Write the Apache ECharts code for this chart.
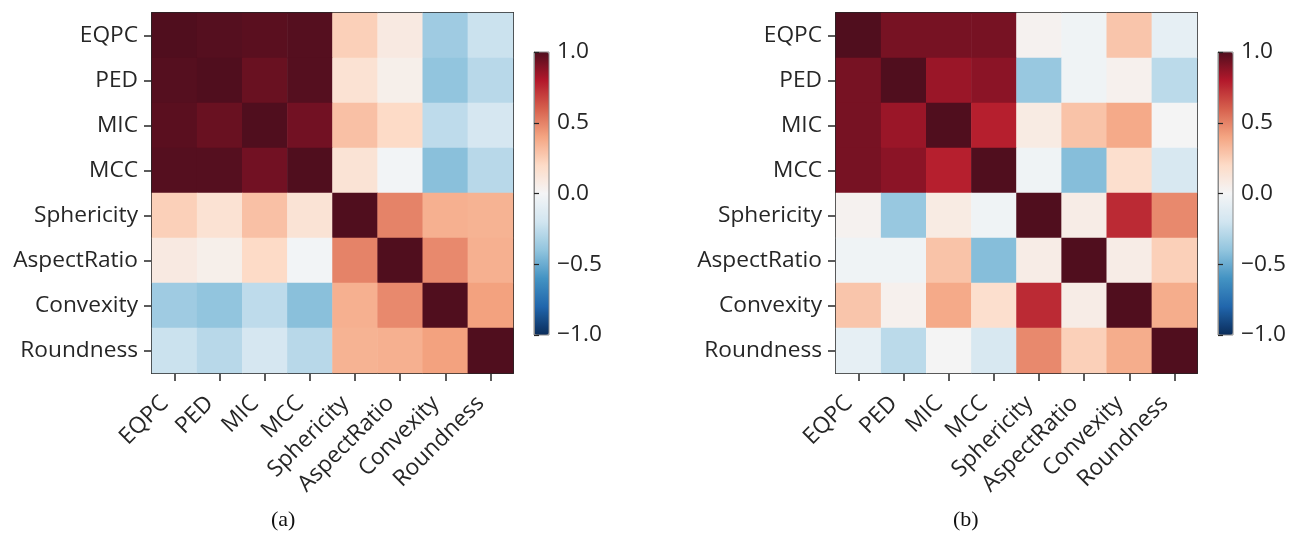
<!DOCTYPE html>
<html>
<head>
<meta charset="utf-8">
<script src="https://cdn.jsdelivr.net/npm/echarts@6/dist/echarts.min.js"></script>
<style>
html,body{margin:0;padding:0;background:#fff;}
#chart{width:1309px;height:547px;}
</style>
</head>
<body>
<div id="chart"></div>
<script>
// ---- data ----
const features = ['EQPC','PED','MIC','MCC','Sphericity','AspectRatio','Convexity','Roundness'];

const corrA = [
  [1.00, 0.99, 0.98, 0.99, 0.24, 0.09, -0.36, -0.22],
  [0.99, 1.00, 0.95, 0.99, 0.15, 0.05, -0.40, -0.28],
  [0.98, 0.95, 1.00, 0.93, 0.30, 0.20, -0.26, -0.17],
  [0.99, 0.99, 0.93, 1.00, 0.14, -0.01, -0.42, -0.28],
  [0.24, 0.15, 0.30, 0.14, 1.00, 0.50, 0.36, 0.35],
  [0.09, 0.05, 0.20, -0.01, 0.50, 1.00, 0.48, 0.36],
  [-0.36, -0.40, -0.26, -0.42, 0.36, 0.48, 1.00, 0.41],
  [-0.22, -0.28, -0.17, -0.28, 0.35, 0.36, 0.41, 1.00]
];

const corrB = [
  [1.00, 0.92, 0.92, 0.92, 0.03, -0.03, 0.28, -0.08],
  [0.92, 1.00, 0.85, 0.88, -0.38, -0.03, 0.04, -0.27],
  [0.92, 0.85, 1.00, 0.78, 0.08, 0.29, 0.38, 0.01],
  [0.92, 0.88, 0.78, 1.00, -0.03, -0.43, 0.17, -0.16],
  [0.03, -0.38, 0.08, -0.03, 1.00, 0.07, 0.75, 0.48],
  [-0.03, -0.03, 0.29, -0.43, 0.07, 1.00, 0.07, 0.24],
  [0.28, 0.04, 0.38, 0.17, 0.75, 0.07, 1.00, 0.37],
  [-0.08, -0.27, 0.01, -0.16, 0.48, 0.24, 0.37, 1.00]
];

const colorbarTicks = [-1.0, -0.5, 0.0, 0.5, 1.0];
const captions = ['(a)', '(b)'];

// RdBu_r colormap (low -> high)
const rdbu_r = ['#0a2c5a','#2166ac','#4393c3','#92c5de','#d1e5f0','#f4f5f6',
                '#fddbc7','#f4a582','#d6604d','#b2182b','#500e1e'];

function toCells(m){
  const out = [];
  for (let r = 0; r < m.length; r++)
    for (let c = 0; c < m[r].length; c++)
      out.push([c, r, m[r][c]]);
  return out;
}

const FONT = 'Open Sans';
const TXT = '#262626';
const labelStyle = {color: TXT, fontFamily: FONT, fontSize: 22.7};

const panels = [
  {left: 152, top: 13, cbLeft: 534, capLeft: 271, data: corrA},
  {left: 836, top: 13, cbLeft: 1218, capLeft: 953, data: corrB}
];
const W = 361, H = 360, cbTop = 52, cbW = 15, cbH = 283;

const grid = [], xAxis = [], yAxis = [], series = [], visualMap = [], graphic = [];

panels.forEach((p, i) => {
  grid.push({left: p.left, top: p.top, width: W, height: H, containLabel: false});
  const g = grid.length - 1;
  xAxis.push({
    type: 'category', gridIndex: g, data: features, position: 'bottom',
    axisLine: {show: true, onZero: false, lineStyle: {color: TXT, width: 2}},
    axisTick: {show: true, alignWithLabel: true, length: 8, lineStyle: {color: TXT, width: 1.5}},
    axisLabel: Object.assign({rotate: 45, margin: 17, interval: 0, padding: [0, 14, 0, 0]}, labelStyle),
    splitLine: {show: false}
  });
  xAxis.push({
    type: 'category', gridIndex: g, data: features, position: 'top',
    axisLine: {show: true, onZero: false, lineStyle: {color: TXT, width: 2}},
    axisTick: {show: false}, axisLabel: {show: false}, splitLine: {show: false}
  });
  yAxis.push({
    type: 'category', gridIndex: g, data: features, inverse: true, position: 'left',
    axisLine: {show: true, onZero: false, lineStyle: {color: TXT, width: 2}},
    axisTick: {show: true, alignWithLabel: true, length: 8, lineStyle: {color: TXT, width: 1.5}},
    axisLabel: Object.assign({margin: 14, interval: 0, padding: [3, 0, 0, 0]}, labelStyle),
    splitLine: {show: false}
  });
  yAxis.push({
    type: 'category', gridIndex: g, data: features, inverse: true, position: 'right',
    axisLine: {show: true, onZero: false, lineStyle: {color: TXT, width: 2}},
    axisTick: {show: false}, axisLabel: {show: false}, splitLine: {show: false}
  });
  series.push({
    type: 'heatmap', name: 'panel' + i,
    xAxisIndex: xAxis.length - 2, yAxisIndex: yAxis.length - 2,
    data: toCells(p.data),
    itemStyle: {borderWidth: 0},
    emphasis: {disabled: true},
    progressive: 0
  });
  visualMap.push({
    type: 'continuous', seriesIndex: series.length - 1,
    min: -1, max: 1, calculable: false, realtime: false, hoverLink: false,
    orient: 'vertical', left: p.cbLeft, top: cbTop,
    itemWidth: cbW, itemHeight: cbH, padding: 0, text: null, showLabel: false,
    inRange: {color: rdbu_r}
  });
});

// colorbar axes
panels.forEach((p, i) => {
  grid.push({left: p.cbLeft, top: cbTop, width: cbW, height: cbH, show: true,
             borderColor: '#8a8a8a', borderWidth: 1, backgroundColor: 'transparent', z: 10});
  const g = grid.length - 1;
  xAxis.push({type: 'value', gridIndex: g, show: false, min: 0, max: 1});
  yAxis.push({
    type: 'value', gridIndex: g, position: 'right', min: colorbarTicks[0],
    max: colorbarTicks[colorbarTicks.length - 1], interval: 0.5,
    axisLine: {show: true, lineStyle: {color: '#8a8a8a', width: 1}},
    axisTick: {show: true, length: 5, lineStyle: {color: TXT, width: 1.2}},
    splitLine: {show: false},
    axisLabel: Object.assign({margin: 8,
      formatter: v => (v < 0 ? '\u2212' : '') + Math.abs(v).toFixed(1)}, labelStyle),
    z: 10
  });
});

captions.forEach((t, i) => {
  graphic.push({
    type: 'text', left: panels[i].capLeft, top: 509,
    style: {text: t, fill: '#111', font: '22px "Liberation Serif", "Times New Roman", serif'}
  });
});

const chart = echarts.init(document.getElementById('chart'), null, {renderer: 'canvas'});
chart.setOption({
  animation: false,
  backgroundColor: '#ffffff',
  grid, xAxis, yAxis, series, visualMap, graphic
});
</script>
</body>
</html>
